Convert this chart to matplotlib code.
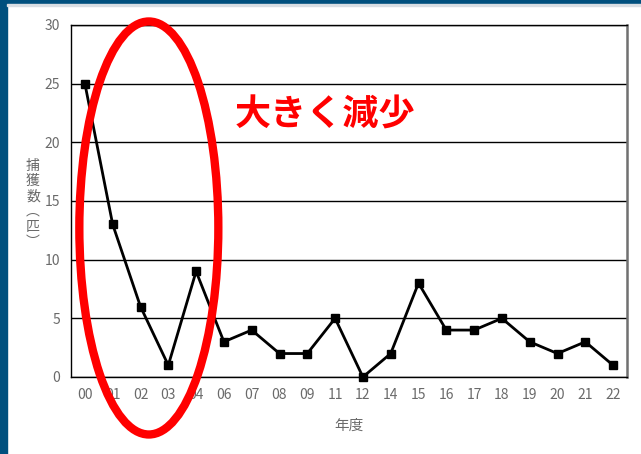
import matplotlib
matplotlib.use("Agg")
import matplotlib.pyplot as plt
from matplotlib.patches import Ellipse, Rectangle

plt.rcParams['font.family'] = ['Noto Sans CJK JP', 'DejaVu Sans']

# capture counts per fiscal year
years = ["00", "01", "02", "03", "04", "06", "07", "08", "09", "11",
         "12", "14", "15", "16", "17", "18", "19", "20", "21", "22"]
counts = [25, 13, 6, 1, 9, 3, 4, 2, 2, 5, 0, 2, 8, 4, 4, 5, 3, 2, 3, 1]
y_ticks = [0, 5, 10, 15, 20, 25, 30]

GRAY = "#6a6a6a"
BLUE = "#00507e"

W, H = 641, 454
fig = plt.figure(figsize=(W / 100, H / 100), dpi=100)
ax = fig.add_axes([71 / W, 1 - 377 / H, (627 - 71) / W, (377 - 25) / H])

# frame decoration (dark blue band top/left)
fig.patches.append(Rectangle((0, 1 - 4 / H), 1, 4 / H, transform=fig.transFigure,
                             color=BLUE, zorder=0))
fig.patches.append(Rectangle((0, 0), 7 / W, 1, transform=fig.transFigure,
                             color=BLUE, zorder=0))
fig.patches.append(Rectangle((7 / W, 1 - 6 / H), 1, 2 / H, transform=fig.transFigure,
                             color="#d9dee3", zorder=0))

x = list(range(len(years)))
ax.plot(x, counts, color="black", lw=2.0, marker="s", ms=5.5, zorder=3, clip_on=False)

ax.set_xlim(-0.5, len(years) - 0.5)
ax.set_ylim(0, 30)
ax.set_yticks(y_ticks)
ax.set_xticks(x)
ax.set_xticklabels(years)
ax.tick_params(length=0, colors=GRAY, labelsize=10)
ax.tick_params(axis="y", pad=8)
ax.tick_params(axis="x", pad=8)
ax.grid(axis="y", color="black", lw=1.0)
ax.set_axisbelow(True)
for s in ["left", "bottom", "top"]:
    ax.spines[s].set_color("black")
    ax.spines[s].set_linewidth(1.0)
ax.spines["right"].set_color("#707070")
ax.spines["right"].set_linewidth(1.8)

ax.set_xlabel("年度", color=GRAY, fontsize=10.5, labelpad=12)
fig.text(33 / W, 1 - 204 / H, "捕\n獲\n数\n︵\n匹\n︶", color=GRAY, fontsize=10,
         ha="center", va="center", linespacing=1.12)

# highlight
ax.add_patch(Ellipse((2.3, 12.7), 5.0, 35.2, fill=False, ec="#ff0000", lw=6,
                     clip_on=False, zorder=4))
ax.text(235 / W, 1 - 115 / H, "大きく減少", transform=fig.transFigure, color="#ff0000",
        fontsize=26, fontweight="bold", ha="left", va="center")

fig.savefig("out.png", dpi=100)
